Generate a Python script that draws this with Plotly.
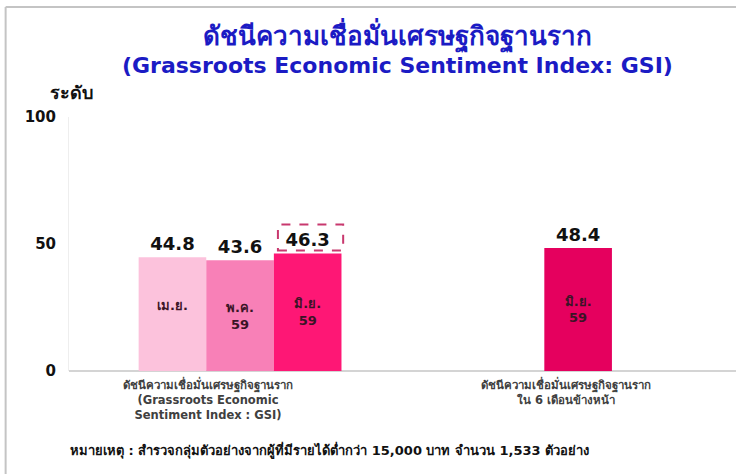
import plotly.graph_objects as go

# ---- data ----
categories = [
    "<b>ดัชนีความเชื่อมั่นเศรษฐกิจฐานราก<br>(Grassroots Economic<br>Sentiment Index : GSI)</b>",
    "<b>ดัชนีความเชื่อมั่นเศรษฐกิจฐานราก<br>ใน 6 เดือนข้างหน้า</b>",
]
label_shift_px = [-32, -12]
periods = ["เม.ย.<br> ", "พ.ค.<br>59", "มิ.ย.<br>59", "มิ.ย.<br>59"]
values = [44.8, 43.6, 46.3, 48.4]
bar_category = [0, 0, 0, 1]
offsets = [-0.3, -0.1, 0.1, -0.1]
colors = ["#FCC2DC", "#F880B7", "#FE1775", "#E5005E"]
y_ticks = [0, 50, 100]
highlight_index = 2

title_th = "ดัชนีความเชื่อมั่นเศรษฐกิจฐานราก"
title_en = "(Grassroots Economic Sentiment Index: GSI)"
note = "<b>หมายเหตุ : สำรวจกลุ่มตัวอย่างจากผู้ที่มีรายได้ต่ำกว่า 15,000 บาท จำนวน 1,533 ตัวอย่าง</b>"

FONT = "Tahoma, 'DejaVu Sans', 'Noto Sans', sans-serif"

fig = go.Figure()
for i, v in enumerate(values):
    fig.add_trace(go.Bar(
        x=[categories[bar_category[i]]], y=[v],
        width=0.2, offset=offsets[i],
        marker=dict(color=colors[i], line=dict(width=0)),
        text=[f"<b>{v:.1f}</b>"], textposition="outside",
        textfont=dict(size=18, color="#111111", family=FONT),
        cliponaxis=False, showlegend=False, hoverinfo="skip",
    ))
    fig.add_trace(go.Bar(
        x=[categories[bar_category[i]]], y=[v],
        width=0.2, offset=offsets[i],
        marker=dict(color="rgba(0,0,0,0)", line=dict(width=0)),
        text=[f"<b>{periods[i]}</b>"], textposition="inside",
        insidetextanchor="middle",
        textfont=dict(size=13, color="#3a1426", family=FONT),
        showlegend=False, hoverinfo="skip",
    ))

# category labels (placed as annotations so they can sit slightly left, as in the original)
for cat, dx in zip(categories, label_shift_px):
    fig.add_annotation(text=cat, x=cat, xref="x", y=0, yref="paper",
                       yanchor="top", xanchor="center", yshift=-3, xshift=dx,
                       showarrow=False, align="center",
                       font=dict(size=11.5, color="#404040", family=FONT))

# dashed highlight box around the latest value
hv = values[highlight_index]
hx = bar_category[highlight_index] + offsets[highlight_index]
fig.add_shape(type="rect", xref="x", yref="y",
              x0=hx + 0.012, x1=hx + 0.205,
              ysizemode="pixel", yanchor=hv, y0=3, y1=29,
              line=dict(color="#C8386E", width=2, dash="dash"))

# slide frame lines
fig.add_shape(type="line", xref="paper", yref="paper",
              x0=-0.095, x1=-0.095, y0=-0.42, y1=1.433,
              line=dict(color="#c4c4c4", width=2))
fig.add_shape(type="line", xref="paper", yref="paper",
              x0=-0.095, x1=1.0, y0=1.433, y1=1.433,
              line=dict(color="#c4c4c4", width=2))

fig.add_annotation(text="<b>ระดับ</b>", xref="paper", yref="paper",
                   x=0.003, y=1.098, xanchor="center", yanchor="middle",
                   showarrow=False,
                   font=dict(size=18, color="#111111", family=FONT))
fig.add_annotation(text=note, xref="paper", yref="paper",
                   x=-0.002, y=-0.311, xanchor="left", yanchor="middle",
                   showarrow=False,
                   font=dict(size=13, color="#111111", family=FONT))

fig.update_layout(
    width=736, height=474,
    margin=dict(l=69, r=0, t=117, b=103),
    barmode="overlay",
    plot_bgcolor="white", paper_bgcolor="white",
    font=dict(family=FONT),
    title=dict(
        text=(f"<b><span style='font-size:26px'>{title_th}</span><br>"
              f"{title_en}</b>"),
        x=0.54, xanchor="center", xref="container",
        y=0.906, yanchor="top", yref="container",
        font=dict(size=22, color="#1B1BC4", family=FONT),
    ),
    xaxis=dict(
        type="category", range=[-0.506, 1.467],
        showgrid=False, zeroline=False, showline=False, ticks="",
        showticklabels=False,
    ),
    yaxis=dict(
        range=[0, 100], tickvals=y_ticks,
        ticktext=[f"<b>{t}</b>" for t in y_ticks],
        showgrid=False, zeroline=True, zerolinecolor="#d4d4d4", zerolinewidth=1.5,
        showline=True, linecolor="#eeeeee", linewidth=1,
        ticks="", ticklabelstandoff=9,
        tickfont=dict(size=15, color="#111111", family=FONT),
    ),
)

fig.write_html("out.html", config={"displayModeBar": False},
               post_script="document.body.style.margin='0px';")
